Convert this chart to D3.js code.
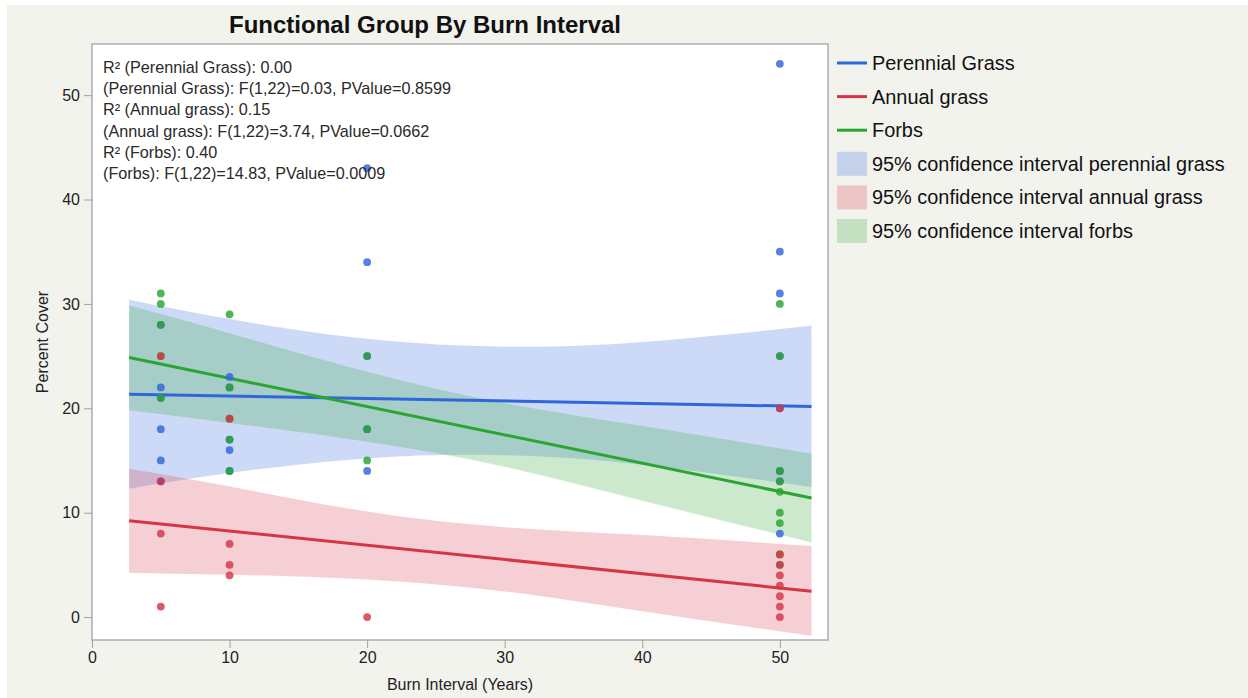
<!DOCTYPE html>
<html>
<head>
<meta charset="utf-8">
<script src="https://cdn.jsdelivr.net/npm/d3@7.8.5/dist/d3.min.js"></script>
<style>
  body { margin: 0; background: #fff; }
  svg text { font-family: "Liberation Sans", Arial, Helvetica, sans-serif; }
</style>
</head>
<body>
<div id="chart"></div>
<script>
// observed points [burn interval, percent cover]
const perennialPoints = [
  [5, 28], [5, 22], [5, 21], [5, 18], [5, 15], [5, 13],
  [10, 23], [10, 22], [10, 17], [10, 16], [10, 14],
  [20, 43], [20, 34], [20, 25], [20, 18], [20, 14],
  [50, 53], [50, 35], [50, 31], [50, 25], [50, 20], [50, 14], [50, 13], [50, 8]
]
const annualPoints = [
  [5, 25], [5, 13], [5, 8], [5, 1],
  [10, 19], [10, 7], [10, 5], [10, 4],
  [20, 0],
  [50, 20], [50, 6], [50, 5], [50, 4], [50, 3], [50, 2], [50, 1], [50, 0]
]
const forbsPoints = [
  [5, 31], [5, 30], [5, 28], [5, 25], [5, 21],
  [10, 29], [10, 22], [10, 19], [10, 17], [10, 14],
  [20, 25], [20, 18], [20, 15],
  [50, 30], [50, 25], [50, 14], [50, 13], [50, 12], [50, 10], [50, 9], [50, 6], [50, 5]
]

// fitted lines, read at the ends of the fit range
const fitX = [2.7, 52.3]
const perennialFit = [21.35, 20.17]
const annualFit = [9.23, 2.47]
const forbsFit = [24.86, 11.4]

// 95% confidence bands, read at these x positions
const bandX = [2.7, 10, 20, 30, 40, 52.3]
const perennialLo = [12.3, 13.8, 15.2, 15.5, 14.6, 12.45]
const perennialHi = [30.4, 28.55, 26.65, 25.9, 26.35, 27.9]
const annualLo = [4.25, 4.05, 3.6, 2.45, 0.55, -1.8]
const annualHi = [14.2, 12.5, 10.1, 8.6, 7.85, 6.8]
const forbsLo = [19.8, 18.6, 16.8, 14.4, 11.15, 7.15]
const forbsHi = [29.85, 27.2, 23.5, 20.5, 18.3, 15.65]

const xTicks = [0, 10, 20, 30, 40, 50]
const yTicks = [0, 10, 20, 30, 40, 50]

const annotationLines = [
  "R² (Perennial Grass): 0.00",
  "(Perennial Grass): F(1,22)=0.03, PValue=0.8599",
  "R² (Annual grass): 0.15",
  "(Annual grass): F(1,22)=3.74, PValue=0.0662",
  "R² (Forbs): 0.40",
  "(Forbs): F(1,22)=14.83, PValue=0.0009"
]

const colors = { perennial: "#2f66dc", annual: "#d63545", forbs: "#2aa532" }

const series = [
  { key: "perennial", points: perennialPoints, fit: perennialFit, lo: perennialLo, hi: perennialHi },
  { key: "forbs", points: forbsPoints, fit: forbsFit, lo: forbsLo, hi: forbsHi },
  { key: "annual", points: annualPoints, fit: annualFit, lo: annualLo, hi: annualHi }
]

const legendItems = [
  { type: "line", key: "perennial", label: "Perennial Grass" },
  { type: "line", key: "annual", label: "Annual grass" },
  { type: "line", key: "forbs", label: "Forbs" },
  { type: "box", key: "perennial", label: "95% confidence interval perennial grass" },
  { type: "box", key: "annual", label: "95% confidence interval annual grass" },
  { type: "box", key: "forbs", label: "95% confidence interval forbs" }
]

const width = 1248, height = 698
const margin = { left: 92, top: 44, right: 420, bottom: 58 }
const plotW = width - margin.left - margin.right
const plotH = height - margin.top - margin.bottom

const svg = d3.select("#chart").append("svg")
  .attr("width", width).attr("height", height)

svg.append("rect").attr("x", 7).attr("y", 5)
  .attr("width", width - 7).attr("height", height - 5)
  .attr("fill", "#f3f3ee")

const x = d3.scaleLinear().domain([0, 53.5]).range([margin.left, margin.left + plotW])
const y = d3.scaleLinear().domain([-2.2, 54.9]).range([margin.top + plotH, margin.top])

svg.append("text")
  .attr("x", 425).attr("y", 33)
  .attr("text-anchor", "middle")
  .attr("font-size", 24).attr("font-weight", "bold").attr("fill", "#111")
  .text("Functional Group By Burn Interval")

svg.append("rect")
  .attr("x", margin.left).attr("y", margin.top)
  .attr("width", plotW).attr("height", plotH)
  .attr("fill", "#fff")

svg.append("clipPath").attr("id", "clip").append("rect")
  .attr("x", margin.left).attr("y", margin.top)
  .attr("width", plotW).attr("height", plotH)

const g = svg.append("g").attr("clip-path", "url(#clip)")

// bands
const area = d3.area()
  .x(d => x(d[0])).y0(d => y(d[1])).y1(d => y(d[2]))
  .curve(d3.curveNatural)

g.selectAll("path.band")
  .data(series)
  .join("path")
    .attr("class", "band")
    .attr("d", s => area(bandX.map((bx, i) => [bx, s.lo[i], s.hi[i]])))
    .attr("fill", s => colors[s.key])
    .attr("fill-opacity", 0.24)

// fit lines
const line = d3.line().x(d => x(d[0])).y(d => y(d[1]))
g.selectAll("path.fit")
  .data(series)
  .join("path")
    .attr("class", "fit")
    .attr("d", s => line(fitX.map((fx, i) => [fx, s.fit[i]])))
    .attr("fill", "none")
    .attr("stroke", s => colors[s.key])
    .attr("stroke-width", 3)

// points
series.forEach(s => {
  g.append("g").selectAll("circle")
    .data(s.points)
    .join("circle")
      .attr("cx", d => x(d[0]))
      .attr("cy", d => y(d[1]))
      .attr("r", 3.9)
      .attr("fill", colors[s.key])
      .attr("fill-opacity", 0.82)
})

// annotation
svg.append("g").selectAll("text")
  .data(annotationLines)
  .join("text")
    .attr("x", 103)
    .attr("y", (d, i) => 72.5 + i * 21.35)
    .attr("font-size", 16.2)
    .attr("fill", "#2a2a2a")
    .text(d => d)

// frame
svg.append("rect")
  .attr("x", margin.left).attr("y", margin.top)
  .attr("width", plotW).attr("height", plotH)
  .attr("fill", "none").attr("stroke", "#adadad").attr("stroke-width", 1.5)

// axes
const xAxis = svg.append("g")
  .attr("transform", `translate(0,${margin.top + plotH})`)
  .call(d3.axisBottom(x).tickValues(xTicks).tickSize(8).tickPadding(4))
const yAxis = svg.append("g")
  .attr("transform", `translate(${margin.left},0)`)
  .call(d3.axisLeft(y).tickValues(yTicks).tickSize(8).tickPadding(4))

for (const ax of [xAxis, yAxis]) {
  ax.select(".domain").remove()
  ax.selectAll(".tick line").attr("stroke", "#a0a0a0")
  ax.selectAll(".tick text")
    .attr("font-size", 16).attr("fill", "#222")
    .attr("font-family", "'Liberation Sans', Arial, sans-serif")
}

svg.append("text")
  .attr("x", x(0) + plotW / 2).attr("y", 690)
  .attr("text-anchor", "middle").attr("font-size", 16).attr("fill", "#222")
  .text("Burn Interval (Years)")

svg.append("text")
  .attr("transform", `translate(48,${margin.top + plotH / 2}) rotate(-90)`)
  .attr("text-anchor", "middle").attr("font-size", 16).attr("fill", "#222")
  .text("Percent Cover")

// legend
const legend = svg.append("g").attr("transform", "translate(837,0)")
const rows = legend.selectAll("g")
  .data(legendItems)
  .join("g")
    .attr("transform", (d, i) => `translate(0,${63 + i * 33.6})`)

rows.filter(d => d.type === "line").append("line")
  .attr("x1", 0).attr("x2", 30)
  .attr("stroke", d => colors[d.key]).attr("stroke-width", 3)
rows.filter(d => d.type === "box").append("rect")
  .attr("x", 0).attr("y", -12).attr("width", 30).attr("height", 24)
  .attr("fill", d => colors[d.key]).attr("fill-opacity", 0.24)
rows.append("text")
  .attr("x", 35).attr("y", 7)
  .attr("font-size", 19.9).attr("fill", "#111")
  .text(d => d.label)
</script>
</body>
</html>
